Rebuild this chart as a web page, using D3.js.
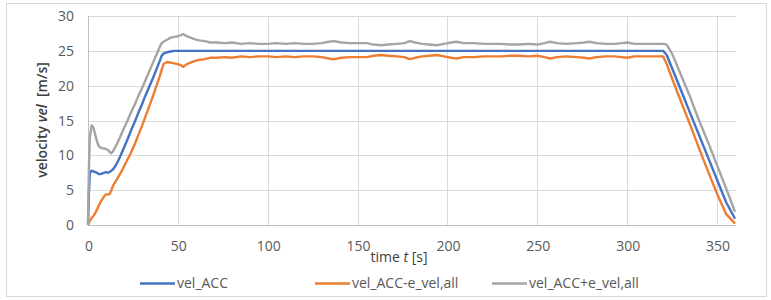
<!DOCTYPE html>
<html><head><meta charset="utf-8">
<script src="https://cdn.jsdelivr.net/npm/d3@7/dist/d3.min.js"></script>
<style>body{margin:0;background:#fff}svg{display:block}</style>
</head><body><svg id="c" width="771" height="300"></svg>
<script>
const times = [0,0.5,1,2,3,4,5,6,7,8,9,10,11,12,13,14,16,18,20,22,24,26,28,30,32,34,36,38,40,41,42,44,46,48,50,52,53,55,57,60,62,65,68,72,76,80,85,90,95,100,105,110,115,120,125,130,134,137,141,146,150,155,159,163,167,172,176,179,182,186,190,194,198,202,205,209,215,220,225,230,235,240,245,250,254,257,261,266,272,276,279,283,288,293,297,300,304,310,315,320,322,325,330,335,340,345,350,355,360];
const velACC = [0,4.5,7.4,7.8,7.7,7.6,7.5,7.3,7.3,7.4,7.5,7.6,7.5,7.6,7.8,8.0,8.8,9.9,11.1,12.3,13.6,14.8,16.1,17.3,18.6,19.8,21.0,22.3,23.6,24.3,24.6,24.8,24.9,25.0,25.0,25.0,25.0,25.0,25.0,25.0,25.0,25.0,25.0,25.0,25.0,25.0,25.0,25.0,25.0,25.0,25.0,25.0,25.0,25.0,25.0,25.0,25.0,25.0,25.0,25.0,25.0,25.0,25.0,25.0,25.0,25.0,25.0,25.0,25.0,25.0,25.0,25.0,25.0,25.0,25.0,25.0,25.0,25.0,25.0,25.0,25.0,25.0,25.0,25.0,25.0,25.0,25.0,25.0,25.0,25.0,25.0,25.0,25.0,25.0,25.0,25.0,25.0,25.0,25.0,25.0,24.4,22.5,19.3,16.1,12.9,9.7,6.5,3.3,0.9];
const velMinus = [0,0.3,0.6,1.0,1.3,1.7,2.2,2.8,3.3,3.7,4.1,4.4,4.4,4.4,5.0,5.7,6.5,7.4,8.4,9.4,10.4,11.6,12.9,14.2,15.6,17.0,18.4,19.9,21.4,22.3,23.1,23.4,23.3,23.2,23.1,22.9,22.7,23.1,23.3,23.6,23.7,23.8,24.0,24.0,24.1,24.0,24.2,24.1,24.2,24.2,24.1,24.2,24.1,24.2,24.2,24.1,23.9,23.8,24.0,24.1,24.1,24.1,24.3,24.4,24.3,24.2,24.1,23.8,24.0,24.2,24.3,24.4,24.2,24.0,23.9,24.1,24.1,24.2,24.2,24.2,24.3,24.3,24.2,24.3,24.1,23.9,24.1,24.2,24.1,24.0,23.9,24.1,24.2,24.2,24.1,24.0,24.2,24.2,24.2,24.2,23.1,21.0,17.7,14.4,11.0,7.7,4.5,1.6,0.2];
const velPlus = [0,8.0,12.5,14.3,14.0,13.0,12.0,11.3,11.1,11.0,11.0,10.9,10.8,10.5,10.3,10.6,11.6,12.7,13.9,15.0,16.2,17.3,18.5,19.6,20.8,22.0,23.2,24.4,25.6,26.1,26.3,26.6,26.9,27.0,27.1,27.3,27.4,27.1,26.9,26.6,26.5,26.4,26.2,26.2,26.1,26.2,26.0,26.1,26.0,26.0,26.1,26.0,26.1,26.0,26.0,26.1,26.3,26.4,26.2,26.1,26.1,26.1,25.9,25.8,25.9,26.0,26.1,26.4,26.2,26.0,25.9,25.8,26.0,26.2,26.3,26.1,26.1,26.0,26.0,26.0,25.9,25.9,26.0,25.9,26.1,26.3,26.1,26.0,26.1,26.2,26.3,26.1,26.0,26.0,26.1,26.2,26.0,26.0,26.0,26.0,25.9,24.6,21.5,18.4,15.0,11.9,8.6,5.3,1.9];
const xTicks = [0,50,100,150,200,250,300,350];
const yTicks = [0,5,10,15,20,25,30];
const seriesNames = ["vel_ACC","vel_ACC-e_vel,all","vel_ACC+e_vel,all"];
const seriesColors = ["#4472C4","#ED7D31","#A5A5A5"];

const svg = d3.select("#c");
const font = "'Open Sans', sans-serif";
svg.append("rect").attr("x",6.5).attr("y",3.5).attr("width",760).attr("height",293)
  .attr("fill","#fff").attr("stroke","#d9d9d9");

const x = d3.scaleLinear().domain([0,360]).range([88,735]);
const y = d3.scaleLinear().domain([0,30]).range([225,16]);

const g = svg.append("g");
g.selectAll(".hg").data(yTicks.filter(d=>d>0)).join("line")
  .attr("x1",88).attr("x2",736).attr("y1",d=>Math.round(y(d))+0.5).attr("y2",d=>Math.round(y(d))+0.5)
  .attr("stroke","#d9d9d9");
g.selectAll(".vg").data(xTicks.filter(d=>d>0)).join("line")
  .attr("y1",16).attr("y2",225).attr("x1",d=>Math.round(x(d))+0.5).attr("x2",d=>Math.round(x(d))+0.5)
  .attr("stroke","#d9d9d9");
g.append("line").attr("x1",88.5).attr("x2",88.5).attr("y1",16).attr("y2",225.5).attr("stroke","#bfbfbf");
g.append("line").attr("x1",88).attr("x2",736).attr("y1",225.5).attr("y2",225.5).attr("stroke","#bfbfbf");

g.selectAll(".yl").data(yTicks).join("text")
  .attr("x",74).attr("y",d=>y(d)).attr("dy","0.36em").attr("text-anchor","end")
  .attr("font-family",font).attr("font-size",14).attr("fill","#595959").text(d=>d);
g.selectAll(".xl").data(xTicks).join("text")
  .attr("x",d=>x(d)+1).attr("y",251).attr("text-anchor","middle")
  .attr("font-family",font).attr("font-size",14).attr("fill","#595959").text(d=>d);

const xt = svg.append("text").attr("x",399).attr("y",262).attr("text-anchor","middle")
  .attr("font-family",font).attr("font-size",14).attr("fill","#404040");
xt.append("tspan").text("time ");
xt.append("tspan").attr("font-style","italic").text("t");
xt.append("tspan").text(" [s]");

const yt = svg.append("text").attr("transform","translate(47,120) rotate(-90)").attr("text-anchor","middle")
  .attr("font-family",font).attr("font-size",14).attr("font-weight",600).attr("fill","#404040");
yt.append("tspan").text("velocity ");
yt.append("tspan").attr("font-style","italic").text("vel");
yt.append("tspan").text("\u00a0 [m/s]");

const series = [velACC, velMinus, velPlus];
const line = d3.line().x((d,i)=>x(times[i])).y(d=>y(d));
series.forEach((s,k)=>{
  svg.append("path").datum(s).attr("d",line).attr("fill","none")
    .attr("stroke",seriesColors[k]).attr("stroke-width",2.4).attr("stroke-linejoin","round");
});

const legX = [140,315,492];
seriesNames.forEach((n,k)=>{
  svg.append("line").attr("x1",legX[k]).attr("x2",legX[k]+35).attr("y1",283.5).attr("y2",283.5)
    .attr("stroke",seriesColors[k]).attr("stroke-width",2.4);
  svg.append("text").attr("x",legX[k]+37).attr("y",288).attr("font-family",font).attr("font-size",14)
    .attr("fill","#595959").text(n);
});
</script></body></html>
